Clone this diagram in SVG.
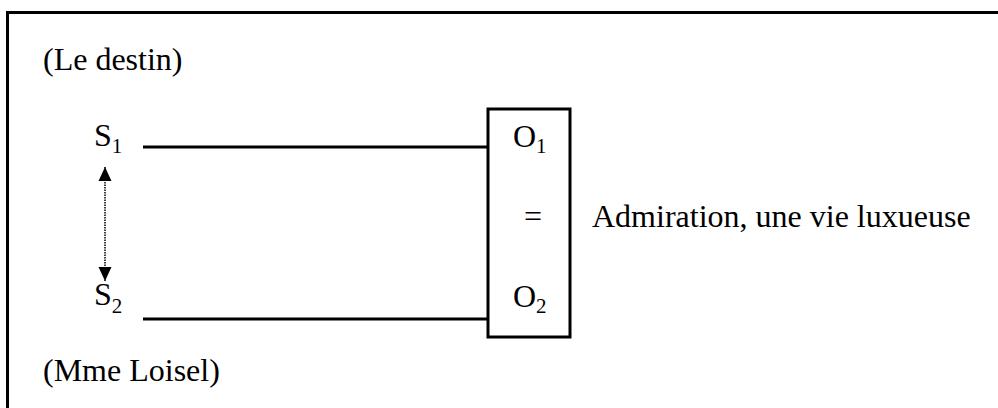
<svg xmlns="http://www.w3.org/2000/svg" width="998" height="408" viewBox="0 0 998 408">
<style>
text{font-family:"Liberation Serif","Times New Roman",serif;font-size:32px;fill:#000}
.sub{font-size:21px}
.ln{stroke:#000;stroke-width:3;fill:none}
</style>
<defs>
<marker id="ah" viewBox="0 0 14 14" refX="14" refY="7" markerWidth="14" markerHeight="14" markerUnits="userSpaceOnUse" orient="auto-start-reverse">
<path d="M0,0.5 L14,7 L0,13.5 z" fill="#000"/>
</marker>
</defs>
<rect width="998" height="408" fill="#fff"/>
<path d="M7.5,408 V12.5 H998" stroke="#000" stroke-width="3" fill="none"/>
<g id="destin"><text x="43" y="70">(Le destin)</text></g>
<g id="loisel"><text x="43" y="381">(Mme Loisel)</text></g>
<g id="S1"><text x="94" y="146">S<tspan class="sub" dy="7">1</tspan></text></g>
<g id="S2"><text x="94" y="305">S<tspan class="sub" dy="8">2</tspan></text></g>
<g id="O"><rect class="ln" x="488" y="109" width="82" height="228"/>
<text x="513" y="147">O<tspan class="sub" dy="6">1</tspan></text>
<text x="524" y="227">=</text>
<text x="513" y="307">O<tspan class="sub" dy="6">2</tspan></text></g>
<g id="desc"><text x="592" y="227">Admiration, une vie luxueuse</text></g>
<g id="connectors">
<line class="ln" x1="143" y1="147" x2="488" y2="147"/>
<line class="ln" x1="143" y1="319" x2="488" y2="319"/>
<line x1="105" y1="167" x2="105" y2="281" stroke="#000" stroke-width="1.5" stroke-dasharray="1.5,1" marker-start="url(#ah)" marker-end="url(#ah)"/>
</g>
</svg>
